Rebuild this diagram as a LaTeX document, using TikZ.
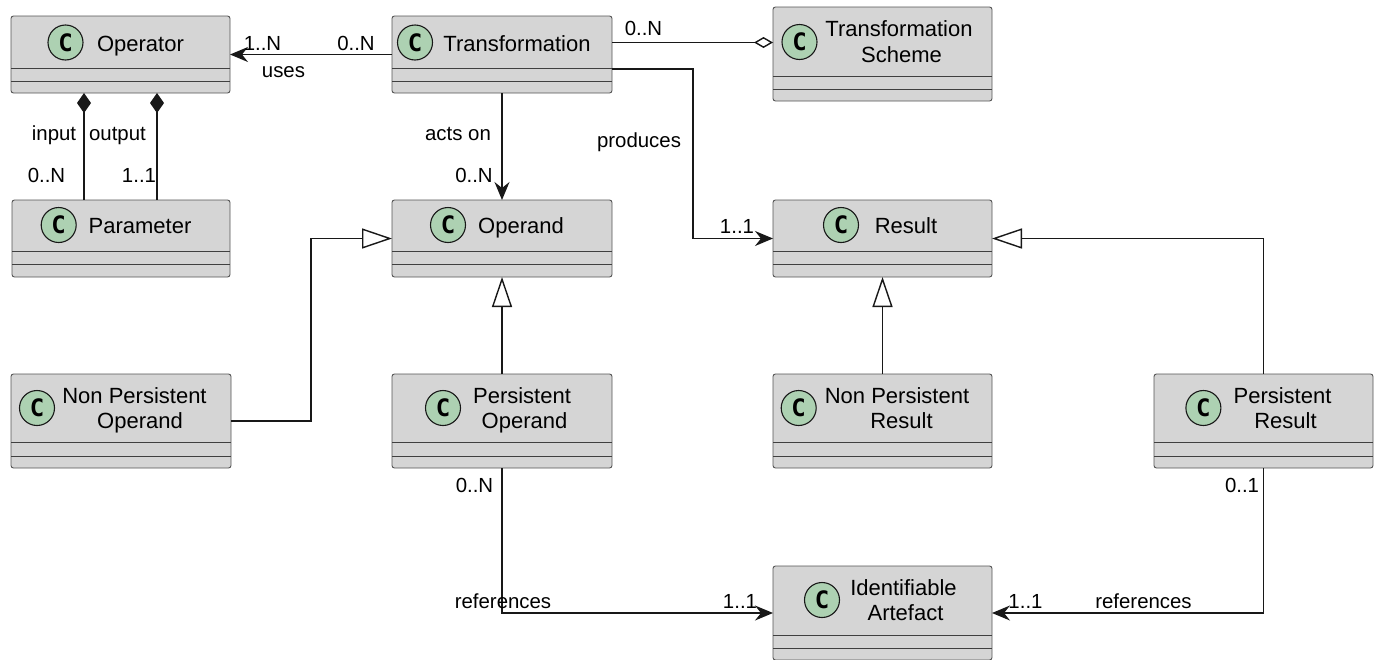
\documentclass[tikz,border=0pt]{standalone}
\usepackage{fontspec}
\setmainfont{Liberation Sans}
\newfontfamily\cmono{DejaVu Sans Mono}
\usetikzlibrary{arrows.meta}
\definecolor{boxgray}{HTML}{D5D5D5}
\definecolor{boxborder}{HTML}{555555}
\definecolor{sepgray}{HTML}{404040}
\definecolor{cgreen}{HTML}{ADD1B2}
\definecolor{linecol}{HTML}{181818}
\newcommand\umlbox[7]{%
  \pgfmathsetmacro\bcx{(#2+#4)/2}\pgfmathsetmacro\bcy{(#3+#5)/2}%
  \pgfmathsetmacro\bw{#4-#2}\pgfmathsetmacro\bh{#5-#3}%
  \node[clsbox, minimum width=\bw pt, minimum height=\bh pt] (#1) at (\bcx,\bcy) {};
  \draw[sepline] (#2,#6) -- (#4,#6);
  \draw[sepline] (#2,#7) -- (#4,#7);}
\newcommand\cicon[3]{\node[ciconst] (#1) at (#2,#3) {C};}
\tikzset{
  clsbox/.style={draw=boxborder, fill=boxgray, line width=0.9pt, rounded corners=2.5pt, inner sep=0pt, outer sep=0pt},
  sepline/.style={draw=sepgray, line width=1pt},
  ciconst/.style={circle, draw=linecol, fill=cgreen, line width=1.1pt, minimum size=35pt, inner sep=0pt,
     font=\fontsize{24}{24}\cmono\bfseries},
  ctitle/.style={anchor=base, inner sep=0pt, font=\fontsize{22}{26}\selectfont},
  lbl/.style={anchor=base, inner sep=0pt, font=\fontsize{20.4}{24}\selectfont},
  conn/.style={draw=linecol, line width=1.4pt},
  navarrow/.style={conn, -{Stealth[length=18pt,width=15pt,inset=6pt]}},
  genarrow/.style={conn, -{Triangle[open,length=30pt,width=20pt,fill=white]}},
  comparrow/.style={conn, {Diamond[length=20pt,width=14pt]}-},
  aggarrow/.style={conn, -{Diamond[open,length=19pt,width=11pt,fill=white]}},
}
\begin{document}
\begin{tikzpicture}[x=1pt,y=-1pt]
\useasboundingbox (0,0) rectangle (1379,659);
\fill[white] (0,0) rectangle (1379,659);

% ---- boxes ----
\umlbox{oper}{11}{16}{230}{93}{68}{81}
\cicon{operc}{65.5}{42.5}
\node[ctitle] (opert) at (140.5,51) {Operator};

\umlbox{trans}{392}{16}{612}{93}{68}{81}
\cicon{transc}{415}{42.5}
\node[ctitle] (transt) at (517,51) {Transformation};

\umlbox{scheme}{773}{7}{992}{101}{76}{89}
\cicon{schemec}{799.5}{42}
\node[ctitle] (schemet1) at (899,36.5) {Transformation};
\node[ctitle] (schemet2) at (901.5,62) {Scheme};

\umlbox{param}{12}{200}{230}{277}{251}{264}
\cicon{paramc}{58.7}{225}
\node[ctitle] (paramt) at (140,233) {Parameter};

\umlbox{operand}{392}{200}{612}{277}{251}{264}
\cicon{operandc}{448}{225}
\node[ctitle] (operandt) at (521,233) {Operand};

\umlbox{result}{773}{200}{992}{277}{251}{264}
\cicon{resultc}{841}{225}
\node[ctitle] (resultt) at (906,233) {Result};

\umlbox{nop}{11}{374}{231}{468}{442}{456}
\cicon{nopc}{37}{408}
\node[ctitle] (nopt1) at (134.5,403) {Non Persistent};
\node[ctitle] (nopt2) at (140,428) {Operand};

\umlbox{pop}{392}{374}{612}{468}{442}{456}
\cicon{popc}{443}{408}
\node[ctitle] (popt1) at (522,403) {Persistent};
\node[ctitle] (popt2) at (524.5,428) {Operand};

\umlbox{npr}{773}{374}{992}{468}{442}{456}
\cicon{nprc}{798.7}{408}
\node[ctitle] (nprt1) at (897,403) {Non Persistent};
\node[ctitle] (nprt2) at (901.5,428) {Result};

\umlbox{pres}{1154}{374}{1373}{468}{442}{456}
\cicon{presc}{1203.4}{408}
\node[ctitle] (prest1) at (1282.5,403) {Persistent};
\node[ctitle] (prest2) at (1285.5,428) {Result};

\umlbox{ident}{773}{566}{992}{660}{635}{648}
\cicon{identc}{822}{600}
\node[ctitle] (identt1) at (903.5,595.5) {Identifiable};
\node[ctitle] (identt2) at (905.5,620.5) {Artefact};

% ---- connectors ----
\draw[navarrow] (trans.west) -- (oper.east);
\draw[comparrow] ([xshift=-36.5pt]oper.south) -- ([xshift=-37pt]param.north);
\draw[comparrow] ([xshift=36.5pt]oper.south) -- ([xshift=36pt]param.north);
\draw[aggarrow] ([yshift=12pt]trans.east) -- ([yshift=11.5pt]scheme.west);
\draw[navarrow] (trans.south) -- (operand.north);
\draw[navarrow] ([yshift=-14.5pt]trans.east) -- ++(81,0) |- (result.west);
\draw[genarrow] (nop.east) -- ++(80,0) |- (operand.west);
\draw[genarrow] (pop.north) -- (operand.south);
\draw[genarrow] (npr.north) -- (result.south);
\draw[genarrow] (pres.north) |- (result.east);
\draw[navarrow] (pop.south) |- (ident.west);
\draw[navarrow] (pres.south) |- (ident.east);

% ---- labels ----
\node[lbl] (l1) at (262.5,50) {1..N};
\node[lbl] (l2) at (356,50) {0..N};
\node[lbl] (l3) at (283.5,77) {uses};
\node[lbl] (l4) at (54,140) {input};
\node[lbl] (l5) at (117.5,140) {output};
\node[lbl] (l6) at (46.5,182) {0..N};
\node[lbl] (l7) at (139,182) {1..1};
\node[lbl] (l8) at (458,140) {acts on};
\node[lbl] (l9) at (474,182) {0..N};
\node[lbl] (l10) at (643.5,35) {0..N};
\node[lbl] (l11) at (639,147) {produces};
\node[lbl] (l12) at (737,233) {1..1};
\node[lbl] (l13) at (474.5,492) {0..N};
\node[lbl] (l14) at (503,608) {references};
\node[lbl] (l15) at (740,608) {1..1};
\node[lbl] (l16) at (1025.5,608) {1..1};
\node[lbl] (l17) at (1143.5,608) {references};
\node[lbl] (l18) at (1242,492) {0..1};
\end{tikzpicture}
\end{document}
